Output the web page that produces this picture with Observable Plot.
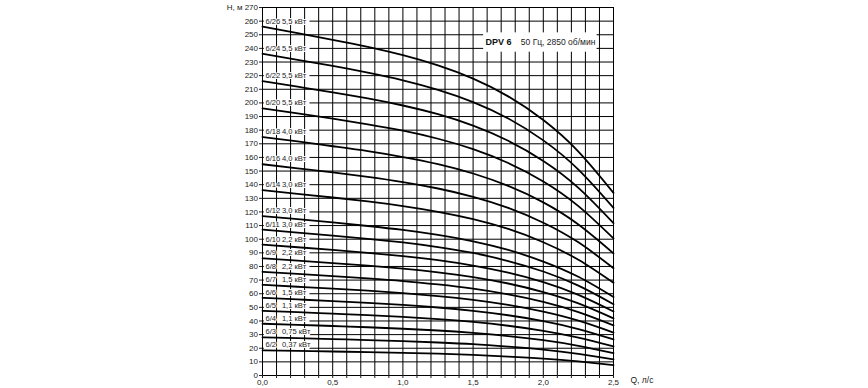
<!DOCTYPE html>
<html><head><meta charset="utf-8">
<script src="https://cdn.jsdelivr.net/npm/d3@7"></script>
<script src="https://cdn.jsdelivr.net/npm/@observablehq/plot@0.6"></script>
<style>body{margin:0;background:#fff} svg{display:block}</style>
</head><body><div id="chart"></div>
<script>
// Flow points (Q, л/с) at which heads were read
const flow = [0, 0.25, 0.5, 0.75, 1.0, 1.25, 1.5, 1.75, 2.0, 2.25, 2.5];
const models = ["6/2","6/3","6/4","6/5","6/6","6/7","6/8","6/9","6/10","6/11","6/12","6/14","6/16","6/18","6/20","6/22","6/24","6/26"];
const powers = ["0,37 кВт","0,75 кВт","1,1 кВт","1,1 кВт","1,5 кВт","1,5 кВт","2,2 кВт","2,2 кВт","2,2 кВт","3,0 кВт","3,0 кВт","3,0 кВт","4,0 кВт","4,0 кВт","5,5 кВт","5,5 кВт","5,5 кВт","5,5 кВт"];
// Heads (H, м)
const h2  = [18.5, 18.1, 17.6, 17.2, 16.6, 16.0, 15.1, 13.9, 12.4, 10.3, 7.6];
const h3  = [28, 27.4, 26.7, 26.0, 25.2, 24.2, 23.0, 21.2, 19.0, 15.9, 11.9];
const h4  = [38, 37.2, 36.3, 35.4, 34.3, 33.0, 31.2, 28.9, 25.9, 21.8, 16.4];
const h5  = [47.5, 46.5, 45.4, 44.3, 43.0, 41.4, 39.3, 36.5, 32.8, 27.8, 21.3];
const h6  = [57, 55.8, 54.6, 53.3, 51.8, 49.9, 47.4, 44.2, 39.9, 34.1, 26.5];
const h7  = [66.5, 65.1, 63.7, 62.2, 60.5, 58.3, 55.5, 51.8, 46.8, 40.2, 31.5];
const h8  = [76, 74.5, 72.9, 71.2, 69.3, 66.8, 63.7, 59.5, 54.0, 46.5, 36.8];
const h9  = [86, 84.3, 82.5, 80.6, 78.4, 75.7, 72.2, 67.5, 61.2, 52.9, 41.9];
const h10 = [96, 94.1, 92.1, 90.0, 87.6, 84.6, 80.6, 75.4, 68.5, 59.2, 47];
const h11 = [107, 104.9, 102.7, 100.3, 97.6, 94.2, 89.9, 84.0, 76.3, 65.9, 52.3];
const h12 = [117, 114.7, 112.3, 109.7, 106.8, 103.1, 98.4, 92.1, 83.6, 72.4, 57.6];
const h14 = [136, 133.3, 130.6, 127.7, 124.3, 120.1, 114.7, 107.5, 97.8, 84.9, 68];
const h16 = [155, 152.0, 149.0, 145.7, 141.9, 137.2, 131.1, 123.0, 112.1, 97.7, 78.7];
const h18 = [175, 171.7, 168.2, 164.6, 160.3, 155.1, 148.2, 139.1, 127.0, 110.8, 89.6];
const h20 = [196, 192.3, 188.4, 184.3, 179.6, 173.7, 166.1, 155.9, 142.4, 124.3, 100.6];
const h22 = [216, 211.9, 207.8, 203.3, 198.1, 191.7, 183.3, 172.2, 157.4, 137.7, 111.8];
const h24 = [236, 231.6, 227.1, 222.2, 216.6, 209.6, 200.6, 188.6, 172.5, 151.1, 123];
const h26 = [256, 251.2, 246.3, 241.1, 235.0, 227.5, 217.8, 204.8, 187.4, 164.3, 134];
const heads = [h2,h3,h4,h5,h6,h7,h8,h9,h10,h11,h12,h14,h16,h18,h20,h22,h24,h26];

const xTicks = [0.1,0.2,0.3,0.4,0.5,0.6,0.7,0.8,0.9,1.0,1.1,1.2,1.3,1.4,1.5,1.6,1.7,1.8,1.9,2.0,2.1,2.2,2.3,2.4,2.5];
const xLabels = [0, 0.5, 1.0, 1.5, 2.0, 2.5];
const yTicks = [0,10,20,30,40,50,60,70,80,90,100,110,120,130,140,150,160,170,180,190,200,210,220,230,240,250,260,270];
const titleBold = "DPV 6";
const titleRest = "50 Гц, 2850 об/мин";

const table = [];
models.forEach((m, i) => flow.forEach((q, j) => table.push({model: m, q, h: heads[i][j]})));
const labels = models.map((m, i) => ({model: m, power: powers[i], h0: heads[i][0]}));

const FONT = "Liberation Sans, Arial, sans-serif";
const fmt = d => d.toFixed(1).replace(".", ",");

const chart = Plot.plot({
  width: 868, height: 388,
  marginLeft: 262, marginRight: 255, marginTop: 7, marginBottom: 13,
  style: {fontFamily: FONT, fontSize: "8px", color: "#222", background: "#fff"},
  x: {domain: [0, 2.5]},
  y: {domain: [0, 270]},
  marks: [
    Plot.ruleY(yTicks.filter(d => d > 0), {stroke: "#000", strokeWidth: 1}),
    Plot.ruleY(labels, {y: "h0", x1: 0.013, x2: 0.338, dy: -5.5, stroke: "white", strokeWidth: 9}),
    Plot.ruleX(xTicks, {y1: 0, y2: 270, stroke: "#000", strokeWidth: 1}),
    Plot.ruleX([0], {y1: 0, y2: 270, stroke: "#000", strokeWidth: 1}),
    Plot.ruleY([0], {stroke: "#000", strokeWidth: 1}),
    Plot.line(table, {x: "q", y: "h", z: "model", curve: "natural", stroke: "#000", strokeWidth: 1.8}),
    Plot.text(labels, {x: 0.021, y: "h0", dy: -5.5, text: "model", textAnchor: "start", fontSize: 7.6, fill: "#222", stroke: "white", strokeWidth: 2}),
    Plot.text(labels, {x: 0.138, y: "h0", dy: -5.5, text: "power", textAnchor: "start", fontSize: 7.6, fill: "#222", stroke: "white", strokeWidth: 2}),
    Plot.rect([titleBold], {x1: 1.575, x2: 2.383, y1: 237.2, y2: 251.4, fill: "white"}),
    Plot.text([titleBold], {x: 1.588, y: 244.3, textAnchor: "start", fontWeight: "bold", fontSize: 9, fill: "#111"}),
    Plot.text([titleRest], {x: 1.84, y: 244.3, textAnchor: "start", fontSize: 8.5, fill: "#222"}),
    Plot.axisY({ticks: yTicks, tickSize: 3, tickPadding: 1.5, fontSize: 8, label: null, tickFormat: d => String(d)}),
    Plot.axisX({ticks: [0, ...xTicks], tickSize: 3, tickPadding: 1, fontSize: 8, label: null,
      tickFormat: d => xLabels.some(v => Math.abs(v - d) < 1e-9) ? fmt(d) : ""}),
    Plot.text(["H, м"], {frameAnchor: "top-left", dx: -20, dy: -3, textAnchor: "end", fontSize: 8, fill: "#222"}),
    Plot.text(["Q, л/с"], {frameAnchor: "bottom-right", dx: 17, dy: 7, textAnchor: "start", fontSize: 8.5, fill: "#222"})
  ]
});
document.getElementById("chart").appendChild(chart);
</script>
</body></html>
